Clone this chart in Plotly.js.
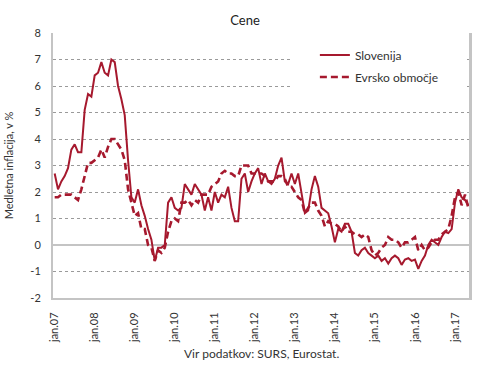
<!DOCTYPE html>
<html><head><meta charset="utf-8">
<script src="https://cdn.plot.ly/plotly-3.0.1.min.js"></script>
<style>html,body{margin:0;padding:0;background:#fff}#chart{width:490px;height:376px}</style>
</head><body><div id="chart"></div>
<script>
// Monthly year-on-year inflation, Jan 2007 - May 2017 (%)
const slovenija = [
  2.7, 2.1, 2.4, 2.6, 2.9, 3.6, 3.8, 3.5, 3.5, 5.1, 5.7, 5.6,
  6.4, 6.5, 6.9, 6.5, 6.4, 7.0, 6.9, 6.0, 5.5, 4.9, 3.2, 1.8,
  1.6, 2.1, 1.5, 1.1, 0.6, 0.2, -0.6, -0.1, -0.1, 0.0, 1.6, 1.8,
  1.4, 1.3, 1.4, 2.3, 2.1, 1.9, 2.3, 2.1, 1.9, 1.3, 1.8, 1.3,
  2.0, 1.6, 1.9, 1.8, 2.2, 1.4, 0.9, 0.9, 2.5, 2.7, 2.0, 2.4,
  2.7, 2.9, 2.3, 2.7, 2.4, 2.3, 2.5, 3.0, 3.3, 2.4, 2.3, 2.7,
  2.3, 2.7, 2.0, 1.2, 1.3, 2.1, 2.6, 2.2, 1.4, 1.3, 1.2, 0.7,
  0.1, 0.6, 0.5, 0.8, 0.8, 0.5, -0.3, -0.4, -0.2, -0.1, -0.3, -0.4,
  -0.5, -0.4, -0.6, -0.5, -0.7, -0.5, -0.4, -0.5, -0.75, -0.55, -0.5, -0.6,
  -0.55, -0.9, -0.6, -0.4, 0.0, 0.2, 0.1, 0.0, 0.3, 0.5, 0.45, 0.6,
  1.6, 2.1, 1.8, 1.7, 1.5
];
const evrskoObmocje = [
  1.8, 1.8, 1.9, 1.9, 1.9, 1.9, 1.8, 1.7, 2.1, 2.6, 3.1, 3.1,
  3.2, 3.3, 3.6, 3.3, 3.7, 4.0, 4.0, 3.8, 3.6, 3.2, 2.1, 1.6,
  1.1, 1.2, 0.6, 0.6, 0.0, -0.1, -0.6, -0.2, -0.3, -0.1, 0.5, 0.9,
  1.0, 0.9, 1.6, 1.6, 1.7, 1.5, 1.7, 1.6, 1.9, 1.9, 1.9, 2.2,
  2.3, 2.4, 2.7, 2.8, 2.7, 2.7, 2.6, 2.6, 3.0, 3.0, 3.0, 2.7,
  2.7, 2.7, 2.7, 2.6, 2.4, 2.4, 2.4, 2.6, 2.6, 2.5, 2.2, 2.2,
  2.0, 1.8, 1.7, 1.2, 1.4, 1.6, 1.6, 1.3, 1.1, 0.7, 0.9, 0.8,
  0.8, 0.7, 0.5, 0.7, 0.5, 0.5, 0.4, 0.4, 0.3, 0.4, 0.3, -0.2,
  -0.4, -0.3, -0.1, 0.0, 0.3, 0.2, 0.2, 0.1, -0.1, 0.1, 0.1, 0.2,
  0.3, -0.2, 0.0, -0.2, -0.1, 0.1, 0.2, 0.2, 0.4, 0.5, 0.6, 1.1,
  1.8, 2.0, 1.5, 1.9, 1.4
];
const tickLabels = ["jan.07","jan.08","jan.09","jan.10","jan.11","jan.12","jan.13","jan.14","jan.15","jan.16","jan.17"];
const tickMonths = [0, 12, 24, 36, 48, 60, 72, 84, 96, 108, 120];
const yTickVals = [-2, -1, 0, 1, 2, 3, 4, 5, 6, 7, 8];
const yTickText = ["-2", "-1", "0", "1", "2", "3", "4", "5", "6", "7", "8"];
const seriesNames = ["Slovenija", "Evrsko območje"];

const monthIndex = slovenija.map((_, i) => i);
const red = "#a6192e";
const fontFam = "Lato, 'Open Sans', sans-serif";

const traces = [
  {x: monthIndex, y: slovenija, name: seriesNames[0], type: "scatter", mode: "lines",
   line: {color: red, width: 2}, legend: "legend"},
  {x: monthIndex, y: evrskoObmocje, name: seriesNames[1], type: "scatter", mode: "lines",
   line: {color: red, width: 2.6, dash: "7px,4px"}, legend: "legend2"}
];

const layout = {
  width: 490, height: 376,
  margin: {l: 53, r: 20, t: 33, b: 78},
  paper_bgcolor: "#fff", plot_bgcolor: "#fff",
  font: {family: fontFam, size: 11, color: "#333"},
  title: {text: "Cene", x: 0.5, xref: "container", xanchor: "center",
          y: 1 - 20/376, yref: "container", yanchor: "middle",
          font: {family: fontFam, size: 13, color: "#222"}},
  xaxis: {
    range: [-0.5, 124.5], tickvals: tickMonths, ticktext: tickLabels,
    tickangle: -90, showgrid: false, zeroline: false,
    showline: true, linecolor: "#c4c4c4", linewidth: 2,
    ticks: "", ticklabelstandoff: 8, tickfont: {size: 11, color: "#333"}
  },
  yaxis: {
    range: [-2, 8], tickvals: yTickVals, ticktext: yTickText,
    showgrid: true, gridcolor: "#9a9a9a", griddash: "dot", gridwidth: 1,
    zeroline: true, zerolinecolor: "#c4c4c4", zerolinewidth: 2,
    showline: true, linecolor: "#c4c4c4", linewidth: 2, mirror: true,
    ticks: "", ticklabelstandoff: 8, tickfont: {size: 11, color: "#333"},
    title: {text: "Medletna inflacija, v %", standoff: 14, font: {size: 11, color: "#333"}}
  },
  showlegend: true,
  legend: {x: 0.628, xanchor: "left", y: 0.917, yanchor: "middle", bgcolor: "rgba(0,0,0,0)",
           font: {size: 12, color: "#333"}},
  legend2: {x: 0.628, xanchor: "left", y: 0.834, yanchor: "middle", bgcolor: "rgba(0,0,0,0)",
           font: {size: 12, color: "#333"}},
  shapes: [
    {type: "rect", xref: "paper", yref: "paper", x0: 0.5755, x1: 0.9856, y0: 0.762, y1: 0.966,
     fillcolor: "#fff", line: {width: 0}, layer: "above"},
    {type: "line", xref: "paper", yref: "paper", x0: 1, x1: 1, y0: 0, y1: 1,
     line: {color: "#c4c4c4", width: 2}, layer: "above"}
  ],
  annotations: [{text: "Vir podatkov: SURS, Eurostat.", xref: "paper", yref: "paper",
                 x: 0.5, y: (298 - 353) / 265, xanchor: "center", yanchor: "middle",
                 showarrow: false, font: {size: 12, color: "#333"}}]
};

Plotly.newPlot("chart", traces, layout, {displayModeBar: false, staticPlot: true});
</script>
</body></html>
